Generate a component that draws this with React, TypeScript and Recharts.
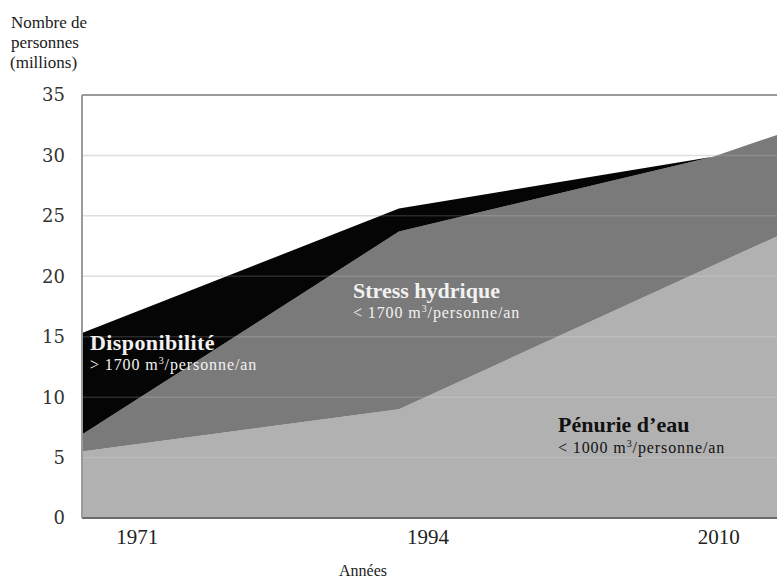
import React from 'react';
import { AreaChart, Area, XAxis, YAxis, CartesianGrid, ReferenceLine } from 'recharts';

// Tick labels on the time axis (one per tick position 0, 1, 2)
const years = ['1971', '1994', '2010'];
// Where the drawn vertices sit along the time axis (tick units)
const periodPos = [-0.19, 0.9, 1.98, 2.2];

// Millions of people in each class (stacked bottom to top)
const penurie = [5.5, 9.0, 20.9, 23.3];
const stress = [1.4, 14.7, 9.0, 8.4];
const disponibilite = [8.4, 1.9, 0, 0];

const yTicks = [0, 5, 10, 15, 20, 25, 30, 35];

const data = periodPos.map((pos, i) => ({
  pos,
  penurie: penurie[i],
  stress: stress[i],
  disponibilite: disponibilite[i],
}));

const serif = '"Liberation Serif", "Times New Roman", serif';

const App: React.FC = () => {
  return (
    <div style={{ position: 'absolute', left: 0, top: 0, width: 777, height: 580, background: '#fff' }}>
      <AreaChart
        width={777}
        height={580}
        data={data}
        margin={{ top: 95, right: 0, bottom: 22, left: 22 }}
      >
        <CartesianGrid vertical={false} stroke="#dadada" strokeWidth={1.5} />
        <XAxis
          type="number"
          dataKey="pos"
          domain={[-0.19, 2.2]}
          ticks={[0, 1, 2]}
          allowDataOverflow
          tickFormatter={(v: number) => years[Math.round(v)] ?? ''}
          height={40}
          tickLine={false}
          tickSize={0}
          tickMargin={11}
          axisLine={{ stroke: '#6a6a6a', strokeWidth: 2 }}
          tick={{ fill: '#222', fontSize: 21, fontFamily: serif }}
        />
        <YAxis
          domain={[0, 35]}
          ticks={yTicks}
          width={60}
          tickLine={false}
          tickSize={0}
          tickMargin={17}
          axisLine={{ stroke: '#9a9a9a', strokeWidth: 2 }}
          tick={{ fill: '#333', fontSize: 18, fontFamily: '"DejaVu Serif", serif' }}
        />
        <Area
          type="linear"
          dataKey="penurie"
          stackId="1"
          stroke="none"
          fill="#b1b1b1"
          fillOpacity={1}
          dot={false}
          activeDot={false}
          isAnimationActive={false}
        />
        <Area
          type="linear"
          dataKey="stress"
          stackId="1"
          stroke="none"
          fill="#7a7a7a"
          fillOpacity={1}
          dot={false}
          activeDot={false}
          isAnimationActive={false}
        />
        <Area
          type="linear"
          dataKey="disponibilite"
          stackId="1"
          stroke="none"
          fill="#050505"
          fillOpacity={1}
          dot={false}
          activeDot={false}
          isAnimationActive={false}
        />
        {yTicks.slice(1, -1).map((t) => (
          <ReferenceLine key={t} y={t} stroke="#ffffff" strokeOpacity={0.15} strokeWidth={1.5} />
        ))}
        <ReferenceLine y={35} stroke="#9a9a9a" strokeWidth={2} />
      </AreaChart>

      {/* titles and in-chart annotations */}
      <svg
        width={777}
        height={580}
        style={{ position: 'absolute', left: 0, top: 0, pointerEvents: 'none' }}
      >
        <g fontFamily={serif} fill="#1a1a1a" fontSize={17}>
          <text x={11} y={28}>Nombre de</text>
          <text x={11} y={48}>personnes</text>
          <text x={10} y={68}>(millions)</text>
        </g>
        <text x={363} y={576} textAnchor="middle" fontFamily={serif} fontSize={16} fill="#222">
          Années
        </text>

        <g fontFamily={serif} fill="#f2f2f2">
          <text x={90} y={350} fontSize={22} fontWeight="bold" letterSpacing={0.4}>Disponibilité</text>
          <text x={90} y={370} fontSize={16} letterSpacing={0.9}>
            {'> 1700 m'}
            <tspan dy={-6} fontSize={10}>3</tspan>
            <tspan dy={6}>/personne/an</tspan>
          </text>
          <text x={353} y={298} fontSize={22} fontWeight="bold">Stress hydrique</text>
          <text x={353} y={318} fontSize={16} letterSpacing={0.9}>
            {'< 1700 m'}
            <tspan dy={-6} fontSize={10}>3</tspan>
            <tspan dy={6}>/personne/an</tspan>
          </text>
        </g>
        <g fontFamily={serif} fill="#111">
          <text x={558} y={432} fontSize={22} fontWeight="bold">Pénurie d’eau</text>
          <text x={558} y={453} fontSize={16} letterSpacing={0.9}>
            {'< 1000 m'}
            <tspan dy={-6} fontSize={10}>3</tspan>
            <tspan dy={6}>/personne/an</tspan>
          </text>
        </g>
      </svg>
    </div>
  );
};

export default App;
